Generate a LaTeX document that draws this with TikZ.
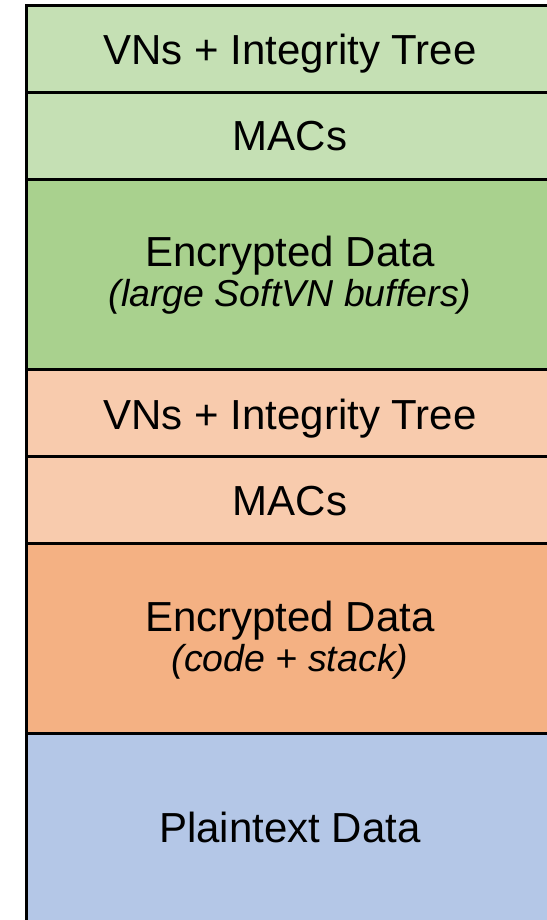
\documentclass[tikz,border=0pt]{standalone}
\usepackage{fontspec}
\setmainfont{Liberation Sans}
\definecolor{grnlight}{HTML}{C5E0B4}
\definecolor{grndark}{HTML}{A9D18E}
\definecolor{orglight}{HTML}{F8CBAD}
\definecolor{orgdark}{HTML}{F4B183}
\definecolor{bluelight}{HTML}{B4C7E7}
\begin{document}
\begin{tikzpicture}[x=1pt,y=-1pt,
  layer/.style={draw=black, line width=3pt, rectangle, inner sep=0pt,
    minimum width=526.6pt},
  thin/.style={layer, minimum height=87pt},
  thick/.style={layer, minimum height=190pt},
  title/.style={anchor=base, inner sep=0pt, font=\fontsize{42}{48}\selectfont},
  note/.style={anchor=base, inner sep=0pt, font=\fontsize{37.5}{42}\selectfont\itshape}]
\useasboundingbox (0,0) rectangle (546,920);
% memory layers, top to bottom
\node[thin,  fill=grnlight]  (vnA)   at (290,49)    {};
\node[thin,  fill=grnlight]  (macA)  at (290,136)   {};
\node[thick, fill=grndark]   (encA)  at (290,274.5) {};
\node[thin,  fill=orglight]  (vnB)   at (290,413)   {};
\node[thin,  fill=orglight]  (macB)  at (290,499.75){};
\node[thick, fill=orgdark]   (encB)  at (290,638)   {};
\node[thick, fill=bluelight] (plain) at (290,828)   {};
% labels
\node[title] (tvnA)   at (290,65)    {VNs + Integrity Tree};
\node[title] (tmacA)  at (290,151)   {MACs};
\node[title] (tencA)  at (290,266.7) {Encrypted Data};
\node[note]  (nencA)  at (290,306)   {(large SoftVN buffers)};
\node[title] (tvnB)   at (290,429)   {VNs + Integrity Tree};
\node[title] (tmacB)  at (290,515)   {MACs};
\node[title] (tencB)  at (290,631.7) {Encrypted Data};
\node[note]  (nencB)  at (290,671.7) {(code + stack)};
\node[title] (tplain) at (290,842.7) {Plaintext Data};
\end{tikzpicture}
\end{document}
